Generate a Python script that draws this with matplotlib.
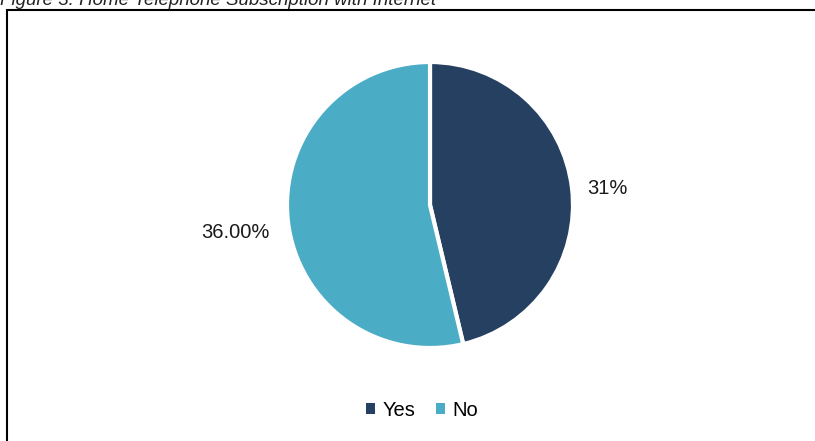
import matplotlib.pyplot as plt
import matplotlib.patches as mpatches
import numpy as np

plt.rcParams['font.family'] = ['Liberation Sans', 'DejaVu Sans']

categories = ['Yes', 'No']
values = [31, 36]
value_labels = ['31%', '36.00%']
label_dist = [1.25, 1.37]
colors = ['#264061', '#4BACC6']

W, H = 815, 441
fig = plt.figure(figsize=(W / 100, H / 100), dpi=100)

# frame around the chart area
fig.patches.append(mpatches.Rectangle((7 / W, -0.01), 1.0, 1 - 10 / H + 0.01,
                                      transform=fig.transFigure, fill=False,
                                      edgecolor='black', linewidth=1.5))

fig.text(0.0, 1 - 5 / H, 'Figure 3: Home Telephone Subscription with Internet',
         fontsize=13.5, style='italic', color='#222222', va='baseline', ha='left')

cx, cy, r = 430, 205, 143
ax = fig.add_axes([(cx - r) / W, (H - cy - r) / H, 2 * r / W, 2 * r / H])
wedges, _ = ax.pie(values, colors=colors, startangle=90, counterclock=False,
                   wedgeprops=dict(edgecolor='white', linewidth=3))
ax.set_xlim(-1, 1)
ax.set_ylim(-1, 1)
ax.set_aspect('equal')
ax.axis('off')

for w, lab, d in zip(wedges, value_labels, label_dist):
    ang = np.deg2rad((w.theta1 + w.theta2) / 2)
    ax.text(d * np.cos(ang), d * np.sin(ang) - 0.03, lab, fontsize=14.5,
            ha='center', va='center', color='#1a1a1a', clip_on=False)

handles = [mpatches.Patch(facecolor=c, label=l) for c, l in zip(colors, categories)]
fig.legend(handles=handles, loc='center', bbox_to_anchor=(422 / W, 1 - 410 / H),
           ncol=2, frameon=False, fontsize=14.5, handlelength=0.45, handleheight=0.45,
           handletextpad=0.4, columnspacing=1.0)

fig.savefig('out.png', dpi=100)
